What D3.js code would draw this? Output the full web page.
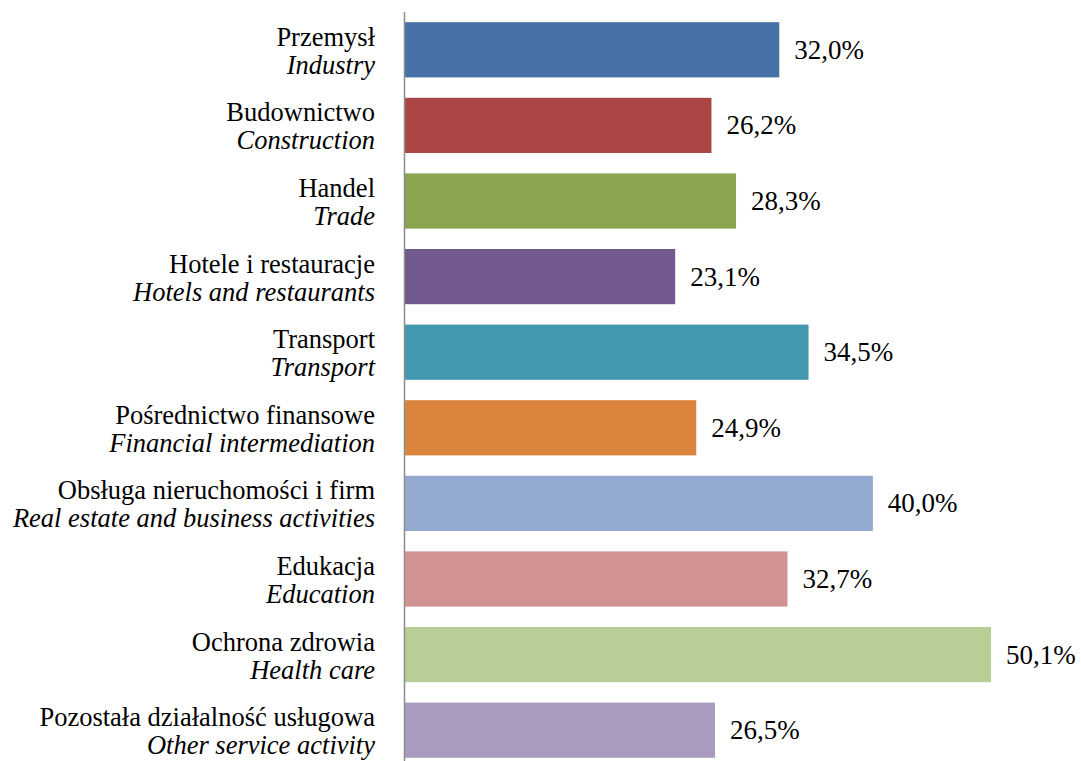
<!DOCTYPE html>
<html>
<head>
<meta charset="utf-8">
<script src="https://cdn.jsdelivr.net/npm/d3@7"></script>
<style>
  html, body { margin: 0; padding: 0; background: #fff; }
  svg { display: block; }
</style>
</head>
<body>
<svg id="chart" width="1081" height="761"></svg>
<script>
// Sector names (Polish / English) and their shares, in percent
const sectorsPl = [
  "Przemysł", "Budownictwo", "Handel", "Hotele i restauracje", "Transport",
  "Pośrednictwo finansowe", "Obsługa nieruchomości i firm", "Edukacja",
  "Ochrona zdrowia", "Pozostała działalność usługowa"
];
const sectorsEn = [
  "Industry", "Construction", "Trade", "Hotels and restaurants", "Transport",
  "Financial intermediation", "Real estate and business activities", "Education",
  "Health care", "Other service activity"
];
const shares = [32.0, 26.2, 28.3, 23.1, 34.5, 24.9, 40.0, 32.7, 50.1, 26.5];
const barColors = [
  "#4672a8", "#aa4744", "#89a54e", "#71588f", "#4198af",
  "#db843d", "#93a9d0", "#d09392", "#b9ce96", "#a99bbd"
];

const FONT = '"Liberation Serif"';
const axisX = 405, maxX = 991;
const svg = d3.select("#chart");

const fmt = v => d3.format(".1f")(v).replace(".", ",") + "%";

const y = d3.scaleBand()
  .domain(d3.range(shares.length))
  .range([12, 768])
  .paddingInner(0.27)
  .paddingOuter(0.135);

const x = d3.scaleLinear()
  .domain([0, 50.1])
  .range([axisX, maxX]);

// bars
svg.append("g").selectAll("rect")
  .data(shares)
  .join("rect")
  .attr("x", x(0))
  .attr("y", (d, i) => y(i))
  .attr("width", d => x(d) - x(0))
  .attr("height", y.bandwidth())
  .attr("fill", (d, i) => barColors[i]);

// vertical category axis
svg.append("line")
  .attr("x1", axisX - 0.5).attr("x2", axisX - 0.5)
  .attr("y1", 12).attr("y2", 768)
  .attr("stroke", "#8c8c8c")
  .attr("stroke-width", 1.5);

// value labels
svg.append("g").selectAll("text")
  .data(shares)
  .join("text")
  .style("font-family", FONT)
  .style("font-size", "27px")
  .attr("fill", "#000")
  .attr("x", d => x(d) + 15)
  .attr("y", (d, i) => y(i) + y.bandwidth() / 2 + 9)
  .text(d => fmt(d));

// two-line category labels: Polish name above, English name in italics below
const lab = svg.append("g").selectAll("g")
  .data(shares.map((d, i) => i))
  .join("g")
  .attr("transform", i => `translate(375,${y(i) + y.bandwidth() / 2})`);

lab.append("text")
  .style("font-family", FONT)
  .style("font-size", "26.5px")
  .attr("fill", "#000")
  .attr("text-anchor", "end")
  .attr("y", -4)
  .text(i => sectorsPl[i]);

lab.append("text")
  .style("font-family", FONT)
  .style("font-size", "26.5px")
  .style("font-style", "italic")
  .attr("fill", "#000")
  .attr("text-anchor", "end")
  .attr("y", 24)
  .text(i => sectorsEn[i]);
</script>
</body>
</html>
